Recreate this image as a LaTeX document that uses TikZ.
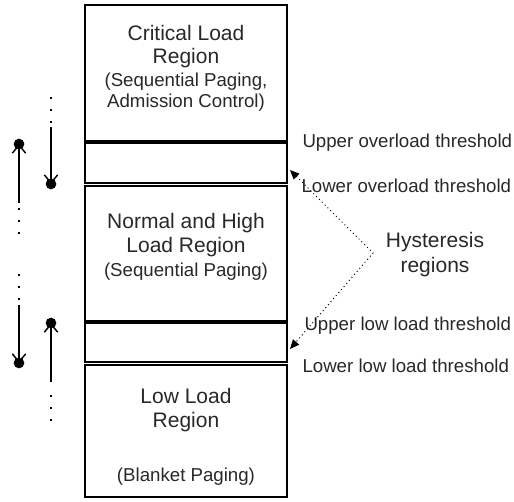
\documentclass[tikz,border=0pt]{standalone}
\usepackage{fontspec}
\setmainfont{Liberation Sans}
\usetikzlibrary{arrows.meta}
\definecolor{txtgray}{RGB}{40,40,40}

\tikzset{every picture/.style={line width=0.75pt}}

\begin{document}
\begin{tikzpicture}[x=0.75pt,y=0.75pt,yscale=-1,xscale=1,
  regionbox/.style={draw, line width=1.1pt, inner sep=0pt, minimum width=151.5pt},
  title/.style={anchor=base, inner sep=0.75pt, font=\fontsize{15.75}{18.9}\selectfont, color=txtgray},
  note/.style={anchor=base, inner sep=0.75pt, font=\fontsize{14}{16.8}\selectfont, color=txtgray},
  thresh/.style={anchor=base west, inner sep=0pt, font=\fontsize{14}{16.8}\selectfont, color=txtgray},
  loaddot/.style={circle, fill, inner sep=0pt, minimum size=8pt},
  move/.style={line width=1.1pt, -{Straight Barb[length=6pt,width=10pt]}},
  trail/.style={line width=1.5pt, dash pattern=on 1.5pt off 7.5pt},
  hyst/.style={line width=0.75pt, dash pattern=on 0.75pt off 2.25pt, {Triangle[length=7pt,width=6pt]}-{Triangle[length=7pt,width=6pt]}}
]
\useasboundingbox (0,0) rectangle (514,501);

%Shape: Rectangle [critical]
\node (crit) [regionbox, minimum height=102pt] at (186,73) {};
%Shape: Rectangle [overload band]
\node (ovl) [regionbox, minimum height=30pt] at (186,163) {};
%Shape: Rectangle [normal]
\node (norm) [regionbox, minimum height=101.25pt] at (186,253.5) {};
%Shape: Rectangle [low load band]
\node (lowband) [regionbox, minimum height=29.25pt] at (186,342.5) {};
%Shape: Rectangle [low]
\node (low) [regionbox, minimum height=99pt] at (186,431) {};

% Text Node
\node (critA) [title] at (186,40) {Critical Load};
\node (critB) [title] at (186,63) {Region};
\node (critC) [note] at (186,86) {(Sequential Paging,};
\node (critD) [note] at (186,107) {Admission Control)};
% Text Node
\node (normA) [title] at (186,228) {Normal and High};
\node (normB) [title] at (186,252) {Load Region};
\node (normC) [note] at (186,276) {(Sequential Paging)};
% Text Node
\node (lowA) [title] at (186,403) {Low Load};
\node (lowB) [title] at (186,427) {Region};
\node (lowC) [note] at (186,481) {(Blanket Paging)};

% Text Node
\node (upOvlTxt) [thresh] at (302,147) {Upper overload threshold};
\node (loOvlTxt) [thresh] at (301,192) {Lower overload threshold};
\node (upLowTxt) [thresh] at (304,330) {Upper low load threshold};
\node (loLowTxt) [thresh] at (302,372) {Lower low load threshold};

% Text Node
\node (hystA) [title] at (435,247) {Hysteresis};
\node (hystB) [title] at (435,272) {regions};

%Straight Lines [hysteresis pointers]
\coordinate (hTop) at (290,170);
\coordinate (hBend) at (373,253);
\coordinate (hBot) at (290,349);
\draw [hyst] (hTop) -- (hBend) -- (hBot);

%Shape: Circle [threshold crossings]
\node (dUpOvl) [loaddot] at (19,144) {};
\node (dLoOvl) [loaddot] at (51,184) {};
\node (dUpLow) [loaddot] at (51,323) {};
\node (dLoLow) [loaddot] at (19,363) {};

%Straight Lines [rising load]
\coordinate (aUpFrom) at (19,203);
\coordinate (aUpTrail) at (19,240);
\draw [move] (aUpFrom) -- (dUpOvl.center);
\draw [trail] (19,208) -- (aUpTrail);
\coordinate (bUpFrom) at (51,382);
\coordinate (bUpTrail) at (51,427);
\draw [move] (bUpFrom) -- (dUpLow.center);
\draw [trail] (51,395) -- (bUpTrail);

%Straight Lines [falling load]
\coordinate (bDnFrom) at (51,127);
\coordinate (bDnTrail) at (51,97);
\draw [move] (bDnFrom) -- (dLoOvl.center);
\draw [trail] (bDnTrail) -- (51,125);
\coordinate (aDnFrom) at (19,305);
\coordinate (aDnTrail) at (19,274);
\draw [move] (aDnFrom) -- (dLoLow.center);
\draw [trail] (aDnTrail) -- (19,302);

\end{tikzpicture}
\end{document}
